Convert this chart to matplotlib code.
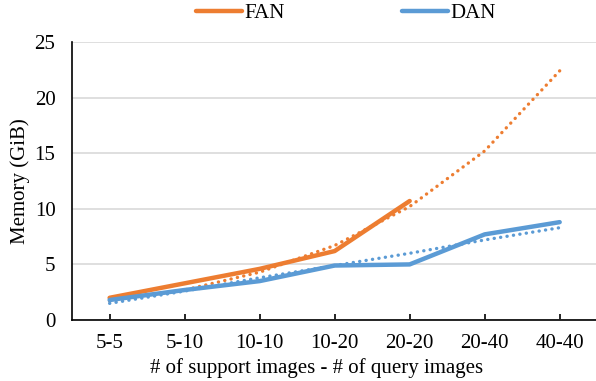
import matplotlib.pyplot as plt

plt.rcParams['font.family'] = ['Liberation Serif', 'DejaVu Serif']

categories = ['5-5', '5-10', '10-10', '10-20', '20-20', '20-40', '40-40']
fan = [2.0, 3.3, 4.6, 6.2, 10.7]
dan = [1.8, 2.7, 3.5, 4.9, 5.0, 7.7, 8.8]
fan_trend = [1.7, 2.7, 4.3, 6.7, 10.2, 15.2, 22.4]
dan_trend = [1.5, 2.6, 3.8, 4.9, 6.0, 7.2, 8.3]

orange = '#ED7D31'
blue = '#5B9BD5'

fig = plt.figure(figsize=(5.96, 3.81), dpi=100)
ax = fig.add_axes([0.121, 0.160, 0.881, 0.730])

x = list(range(len(categories)))
dot = (0, (0.05, 1.9))
ax.plot(x, fan_trend, color=orange, lw=2.4, linestyle=dot, dash_capstyle='round', zorder=3)
ax.plot(x, dan_trend, color=blue, lw=2.4, linestyle=dot, dash_capstyle='round', zorder=3)
ax.plot(x[:len(fan)], fan, color=orange, lw=3.2, label='FAN', solid_capstyle='round', zorder=4)
ax.plot(x, dan, color=blue, lw=3.2, label='DAN', solid_capstyle='round', zorder=4)

ax.set_xlim(-0.5, 6.5)
ax.set_ylim(0, 25)
ax.set_xticks(x)
ax.set_xticklabels(categories)
ax.set_yticks([0, 5, 10, 15, 20, 25])
ax.grid(axis='y', color='#D9D9D9', lw=1.2)
ax.set_axisbelow(True)
for s in ['top', 'right']:
    ax.spines[s].set_visible(False)
ax.spines['left'].set_linewidth(1.2)
ax.spines['bottom'].set_linewidth(1.2)
ax.tick_params(axis='both', labelsize=15)
ax.tick_params(axis='x', length=4, width=1.2, direction='in', pad=10)
ax.tick_params(axis='y', length=0, pad=12)

ax.set_xlabel('# of support images - # of query images', fontsize=15)
ax.xaxis.set_label_coords(0.466, -0.138)
ax.set_ylabel('Memory (GiB)', fontsize=15, labelpad=3)

fig.legend(loc='upper center', bbox_to_anchor=(0.58, 1.04), ncol=2, frameon=False,
           fontsize=15, handlelength=2.25, handletextpad=0.1, columnspacing=5.6)

fig.savefig('out.png', dpi=100)
